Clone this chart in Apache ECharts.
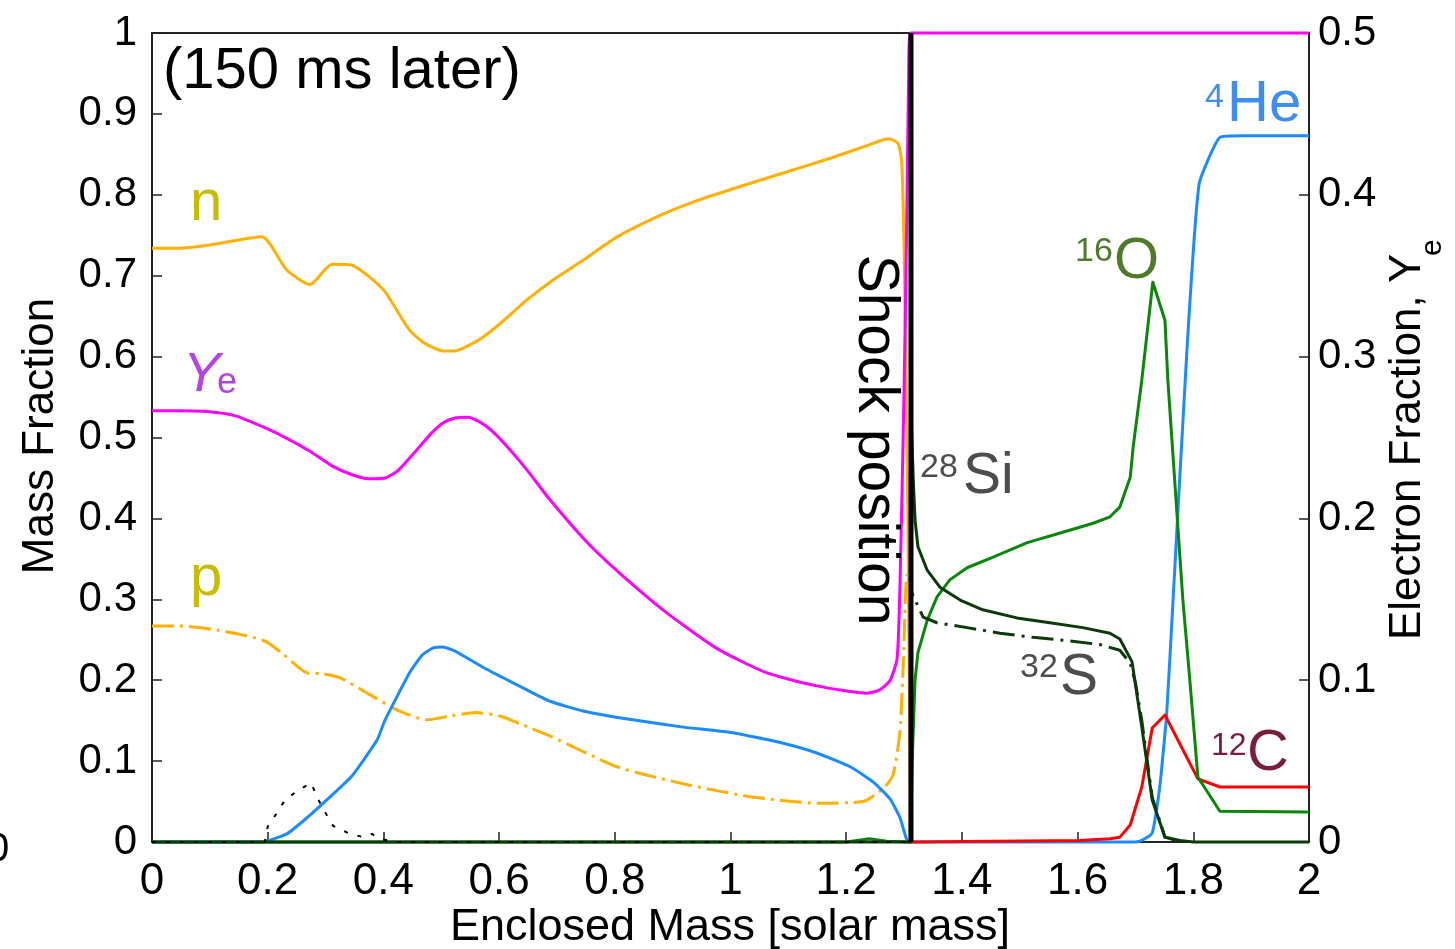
<!DOCTYPE html>
<html>
<head>
<meta charset="utf-8">
<script src="https://cdn.jsdelivr.net/npm/echarts@6/dist/echarts.min.js"></script>
<style>
html,body{margin:0;padding:0;background:#fff;}
#chart{width:1455px;height:949px;}
</style>
</head>
<body>
<div id="chart"></div>
<script>
// ---- data (x = enclosed mass [solar mass]) ----
const nData = [[0,0.734],[0.045,0.734],[0.10,0.738],[0.19,0.748],[0.233,0.707],[0.273,0.689],[0.311,0.714],[0.346,0.713],[0.373,0.700],[0.403,0.680],[0.443,0.635],[0.468,0.618],[0.486,0.611],[0.503,0.607],[0.524,0.607],[0.545,0.613],[0.572,0.624],[0.607,0.644],[0.648,0.670],[0.688,0.692],[0.745,0.719],[0.804,0.748],[0.883,0.776],[0.947,0.794],[1.011,0.809],[1.091,0.827],[1.167,0.844],[1.241,0.862],[1.264,0.868],[1.276,0.869],[1.290,0.863],[1.296,0.840],[1.300,0.737],[1.304,0.557],[1.307,0.377],[1.309,0.200],[1.311,0.0]];
const pData = [[0,0.267],[0.048,0.267],[0.112,0.262],[0.149,0.257],[0.175,0.253],[0.199,0.247],[0.227,0.232],[0.268,0.209],[0.296,0.208],[0.325,0.203],[0.372,0.184],[0.424,0.163],[0.475,0.151],[0.51,0.155],[0.56,0.160],[0.60,0.156],[0.64,0.145],[0.688,0.131],[0.804,0.093],[0.918,0.072],[1.034,0.056],[1.149,0.048],[1.229,0.050],[1.264,0.066],[1.281,0.083],[1.293,0.137],[1.299,0.227],[1.304,0.329],[1.309,0.33],[1.311,0.0]];
const yeData = [[0,0.2665],[0.048,0.2665],[0.095,0.266],[0.143,0.2635],[0.192,0.2565],[0.233,0.2495],[0.273,0.2415],[0.311,0.2325],[0.346,0.227],[0.374,0.2245],[0.403,0.225],[0.425,0.2295],[0.458,0.2425],[0.484,0.253],[0.503,0.259],[0.524,0.262],[0.545,0.2625],[0.567,0.2595],[0.588,0.254],[0.615,0.244],[0.648,0.230],[0.688,0.2115],[0.75,0.186],[0.804,0.1675],[0.883,0.1435],[0.977,0.1195],[1.063,0.1045],[1.149,0.0965],[1.236,0.092],[1.258,0.094],[1.276,0.100],[1.288,0.1135],[1.293,0.159],[1.300,0.2785],[1.304,0.3685],[1.308,0.475],[1.311,0.5],[2,0.5]];
const heData = [[0,0],[0.19,0],[0.233,0.010],[0.268,0.030],[0.302,0.052],[0.346,0.082],[0.389,0.126],[0.403,0.151],[0.446,0.210],[0.467,0.231],[0.486,0.240],[0.503,0.241],[0.524,0.236],[0.572,0.216],[0.607,0.203],[0.648,0.188],[0.688,0.174],[0.745,0.162],[0.831,0.151],[0.918,0.142],[1.004,0.135],[1.091,0.122],[1.149,0.110],[1.207,0.093],[1.247,0.074],[1.276,0.053],[1.293,0.030],[1.305,0.002],[1.311,0],[1.70,0],[1.711,0.002],[1.729,0.011],[1.742,0.068],[1.754,0.159],[1.765,0.299],[1.789,0.608],[1.810,0.813],[1.846,0.871],[1.886,0.873],[2,0.873]];
const cData = [[1.311,0],[1.604,0.002],[1.656,0.004],[1.673,0.006],[1.691,0.021],[1.711,0.068],[1.729,0.141],[1.751,0.157],[1.808,0.078],[1.846,0.068],[2,0.068]];
const oData = [[0,0],[1.20,0],[1.24,0.004],[1.27,0.001],[1.311,0],[1.314,0.10],[1.319,0.200],[1.324,0.234],[1.340,0.274],[1.357,0.303],[1.379,0.324],[1.409,0.339],[1.454,0.352],[1.513,0.370],[1.570,0.382],[1.627,0.394],[1.656,0.402],[1.673,0.414],[1.691,0.451],[1.696,0.488],[1.711,0.571],[1.730,0.692],[1.751,0.645],[1.756,0.571],[1.782,0.299],[1.794,0.200],[1.808,0.080],[1.846,0.038],[2,0.037]];
const siData = [[0,0],[1.311,0],[1.312,0.530],[1.316,0.447],[1.319,0.398],[1.324,0.365],[1.340,0.336],[1.362,0.315],[1.397,0.299],[1.436,0.287],[1.495,0.277],[1.552,0.271],[1.609,0.265],[1.656,0.258],[1.673,0.251],[1.694,0.223],[1.711,0.142],[1.729,0.052],[1.751,0.006],[1.777,0.002],[1.80,0],[2,0]];
const sData = [[1.311,0],[1.312,0.310],[1.333,0.278],[1.357,0.271],[1.409,0.265],[1.466,0.258],[1.523,0.253],[1.582,0.249],[1.639,0.244],[1.673,0.237],[1.691,0.221],[1.700,0.197],[1.711,0.150],[1.729,0.055],[1.751,0.006],[1.78,0]];
const dotData = [[0,0],[0.195,0],[0.200,0.019],[0.216,0.036],[0.230,0.052],[0.251,0.063],[0.275,0.073],[0.287,0.053],[0.299,0.037],[0.313,0.020],[0.339,0.011],[0.365,0.006],[0.380,0.010],[0.394,0.004],[0.42,0],[1.311,0]];
const shockMass = 1.312;
const shockData = [[shockMass,0],[shockMass,1]];

const FONT = "'Liberation Sans', Arial, Helvetica, sans-serif";
const fmt = v => String(parseFloat(v.toFixed(2)));

function line(name, data, color, width, type, yAxisIndex, z, smooth) {
  return {
    name, type: 'line', data, yAxisIndex: yAxisIndex || 0,
    showSymbol: false, symbol: 'none', clip: false, z: z || 2,
    smooth: smooth || false,
    lineStyle: { color, width, type: type || 'solid', cap: 'butt', join: 'round' },
    animation: false
  };
}

const chart = echarts.init(document.getElementById('chart'), null, { renderer: 'canvas' });

function txt(text, x, y, size, color, opts) {
  opts = opts || {};
  return {
    type: 'text', x, y, rotation: opts.rotation || 0, z: 100,
    style: {
      text, fill: color, fontSize: size, fontFamily: FONT,
      fontStyle: opts.italic ? 'italic' : 'normal',
      align: opts.align || 'left', verticalAlign: 'middle',
      textAlign: opts.align || 'left', textVerticalAlign: 'middle'
    }
  };
}

const option = {
  backgroundColor: '#ffffff',
  animation: false,
  grid: { left: 152, right: 146, top: 33, bottom: 107, containLabel: false },
  xAxis: [{
    type: 'value', min: 0, max: 2, interval: 0.2, position: 'bottom',
    axisLine: { show: true, onZero: false, lineStyle: { color: '#222', width: 2 } },
    axisTick: { show: true, inside: true, length: 10, lineStyle: { color: '#222', width: 1.5 } },
    axisLabel: { fontSize: 44, fontFamily: FONT, color: '#000', margin: 18, formatter: fmt },
    splitLine: { show: false }
  }, {
    type: 'value', min: 0, max: 2, position: 'top',
    axisLine: { show: true, onZero: false, lineStyle: { color: '#222', width: 2 } },
    axisTick: { show: false }, axisLabel: { show: false }, splitLine: { show: false }
  }],
  yAxis: [{
    type: 'value', min: 0, max: 1, interval: 0.1, position: 'left',
    axisLine: { show: true, onZero: false, lineStyle: { color: '#222', width: 2 } },
    axisTick: { show: true, inside: true, length: 10, lineStyle: { color: '#222', width: 1.5 } },
    axisLabel: { fontSize: 42, fontFamily: FONT, color: '#000', margin: 15, formatter: fmt },
    splitLine: { show: false }
  }, {
    type: 'value', min: 0, max: 0.5, interval: 0.1, position: 'right',
    axisLine: { show: true, onZero: false, lineStyle: { color: '#222', width: 2 } },
    axisTick: { show: true, inside: true, length: 10, lineStyle: { color: '#222', width: 1.5 } },
    axisLabel: { fontSize: 42, fontFamily: FONT, color: '#000', margin: 9, formatter: fmt },
    splitLine: { show: false }
  }],
  series: [
    line('p', pData, '#ffb000', 3, [22, 6, 3, 6], 0, 2, 0.2),
    line('n', nData, '#ffb000', 3, 'solid', 0, 3, 0.2),
    line('4He', heData, '#1a8cff', 3, 'solid', 0, 4, 0.15),
    line('Ye', yeData, '#ff00ff', 3, 'solid', 1, 5, 0.2),
    line('12C', cData, '#ff0000', 3, 'solid', 0, 6),
    line('16O', oData, '#0a870a', 3, 'solid', 0, 7),
    line('32S', sData, '#0b3a0b', 3, [22, 7, 3, 7], 0, 8),
    line('28Si', siData, '#0b3a0b', 3, 'solid', 0, 9),
    line('dotted', dotData, '#000000', 2, [4, 10], 0, 10),
    line('shock', shockData, '#000000', 5, 'solid', 0, 11)
  ],
  graphic: [
    txt('(150 ms later)', 163, 72, 58, '#000'),
    txt('n', 190, 204, 58, '#c9bc00'),
    txt('p', 190, 579, 58, '#c9bc00'),
    txt('Y', 183, 375, 56, '#b541e8', { italic: true }),
    txt('e', 217, 383, 36, '#b541e8'),
    txt('28', 920, 468, 34, '#4d4d4d'),
    txt('Si', 963, 477, 57, '#4d4d4d'),
    txt('32', 1020, 668, 34, '#4d4d4d'),
    txt('S', 1060, 678, 57, '#4d4d4d'),
    txt('16', 1075, 252, 34, '#4f7a2c'),
    txt('O', 1114, 262, 58, '#4f7a2c'),
    txt('4', 1205, 98, 34, '#3d8ef0'),
    txt('He', 1227, 105, 58, '#3d8ef0'),
    txt('12', 1211, 746, 32, '#7a1c3c'),
    txt('C', 1247, 754, 58, '#7a1c3c'),
    txt('Shock position', 875, 440, 57, '#000', { rotation: -Math.PI / 2, align: 'center' }),
    txt('Mass Fraction', 41, 436, 44, '#000', { rotation: Math.PI / 2, align: 'center' }),
    txt('Enclosed Mass [solar mass]', 730, 928, 45, '#000', { align: 'center' }),
    txt('Electron Fraction, Y', 1408, 640, 44, '#000', { rotation: Math.PI / 2, align: 'left' }),
    txt('e', 1433, 256, 30, '#000', { rotation: Math.PI / 2, align: 'left' }),
    txt('0', -2, 850, 40, '#000', { align: 'center' })
  ]
};
chart.setOption(option);
</script>
</body>
</html>
